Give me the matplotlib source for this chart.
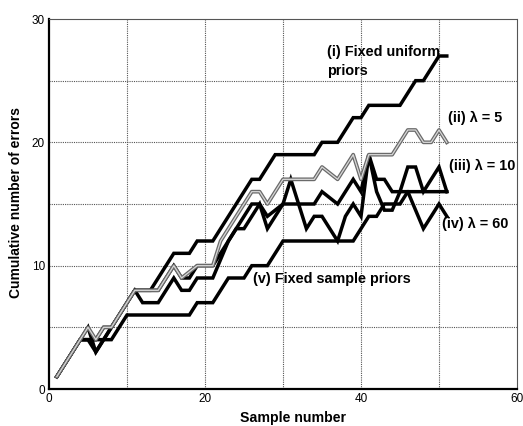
import matplotlib
matplotlib.use("Agg")
import matplotlib.pyplot as plt

plt.rcParams['font.family'] = ['Liberation Sans', 'DejaVu Sans']

samples = list(range(1, 52))

fixed_uniform = [1, 2, 3, 4, 4, 4, 5, 5, 6, 7,
                 8, 8, 8, 9, 10, 11, 11, 11, 12, 12,
                 12, 13, 14, 15, 16, 17, 17, 18, 19, 19,
                 19, 19, 19, 19, 20, 20, 20, 21, 22, 22,
                 23, 23, 23, 23, 23, 24, 25, 25, 26, 27, 27]

lambda_5 = [1, 2, 3, 4, 5, 4, 5, 5, 6, 7,
            8, 8, 8, 8, 9, 10, 9, 9.5, 10, 10,
            10, 12, 13, 14, 15, 16, 16, 15, 16, 17,
            17, 17, 17, 17, 18, 17.5, 17, 18, 19, 17,
            19, 19, 19, 19, 20, 21, 21, 20, 20, 21, 20]

lambda_10 = [1, 2, 3, 4, 5, 3, 4, 5, 6, 7,
             8, 8, 8, 8, 9, 10, 9, 9, 10, 10,
             10, 11, 12, 13, 14, 15, 15, 14, 14.5, 15,
             15, 15, 15, 15, 16, 15.5, 15, 16, 17, 16,
             19, 17, 17, 16, 16, 18, 18, 16, 17, 18, 16]

lambda_60 = [1, 2, 3, 4, 4, 3, 4, 5, 6, 7,
             8, 7, 7, 7, 8, 9, 8, 8, 9, 9,
             9, 10.5, 12, 13, 13, 14, 15, 13, 14, 15,
             17, 15, 13, 14, 14, 13, 12, 14, 15, 14,
             19, 16, 14.5, 14.5, 16, 16, 14.5, 13, 14, 15, 14]

fixed_sample = [1, 2, 3, 4, 4, 4, 4, 4, 5, 6,
                6, 6, 6, 6, 6, 6, 6, 6, 7, 7,
                7, 8, 9, 9, 9, 10, 10, 10, 11, 12,
                12, 12, 12, 12, 12, 12, 12, 12, 12, 13,
                14, 14, 15, 15, 15, 16, 16, 16, 16, 16, 16]

x_ticks = [0, 20, 40, 60]
y_ticks = [0, 10, 20, 30]

fig = plt.figure(figsize=(5.23, 4.26), dpi=100)
ax = fig.add_axes([49/523, 37/426, 468/523, 370/426])

ax.set_xlim(0, 60)
ax.set_ylim(0, 30)

# grid
for gx in range(10, 60, 10):
    ax.axvline(gx, color='#555555', lw=0.8, ls=(0, (1, 1)), zorder=1)
for gy in range(5, 30, 5):
    ax.axhline(gy, color='#555555', lw=0.8, ls=(0, (1, 1)), zorder=1)

black_kw = dict(color='black', lw=2.5, solid_joinstyle='miter', zorder=3)
ax.plot(samples, fixed_sample, **black_kw)
ax.plot(samples, lambda_60, **black_kw)
ax.plot(samples, lambda_10, **black_kw)
ax.plot(samples, fixed_uniform, **black_kw)
ax.plot(samples, lambda_5, color='#6a6a6a', lw=2.7, zorder=4)
ax.plot(samples, lambda_5, color='#d8d8d8', lw=0.9, zorder=5)

ax.set_xticks(x_ticks)
ax.set_yticks(y_ticks)
ax.set_xticklabels([str(t) for t in x_ticks], fontsize=8.5)
ax.set_yticklabels([str(t) for t in y_ticks], fontsize=8.5)
ax.tick_params(length=0, pad=3)

ax.spines['left'].set_linewidth(1.6)
ax.spines['bottom'].set_linewidth(1.6)
for s in ['top', 'right']:
    ax.spines[s].set_linestyle((0, (1, 1)))
    ax.spines[s].set_linewidth(0.8)
    ax.spines[s].set_color('#555555')

ax.set_xlabel('Sample number', fontsize=10.2, fontweight='bold', va='center')
ax.xaxis.set_label_coords(0.521, -0.078)
ax.set_ylabel('Cumulative number of errors', fontsize=10, fontweight='bold', va='center')
ax.yaxis.set_label_coords(-0.07, 0.505)

tkw = dict(fontsize=10.4, fontweight='bold', va='center', ha='left', zorder=6)
ax.text(35.6, 27.3, '(i) Fixed uniform', **tkw)
ax.text(35.6, 25.8, 'priors', **tkw)
ax.text(51.2, 22.0, '(ii) λ = 5', **tkw)
ax.text(51.3, 18.1, '(iii) λ = 10', **tkw)
ax.text(50.4, 13.4, '(iv) λ = 60', **tkw)
ax.text(26.2, 8.9, '(v) Fixed sample priors', **tkw)

fig.savefig('out.png', dpi=100)
